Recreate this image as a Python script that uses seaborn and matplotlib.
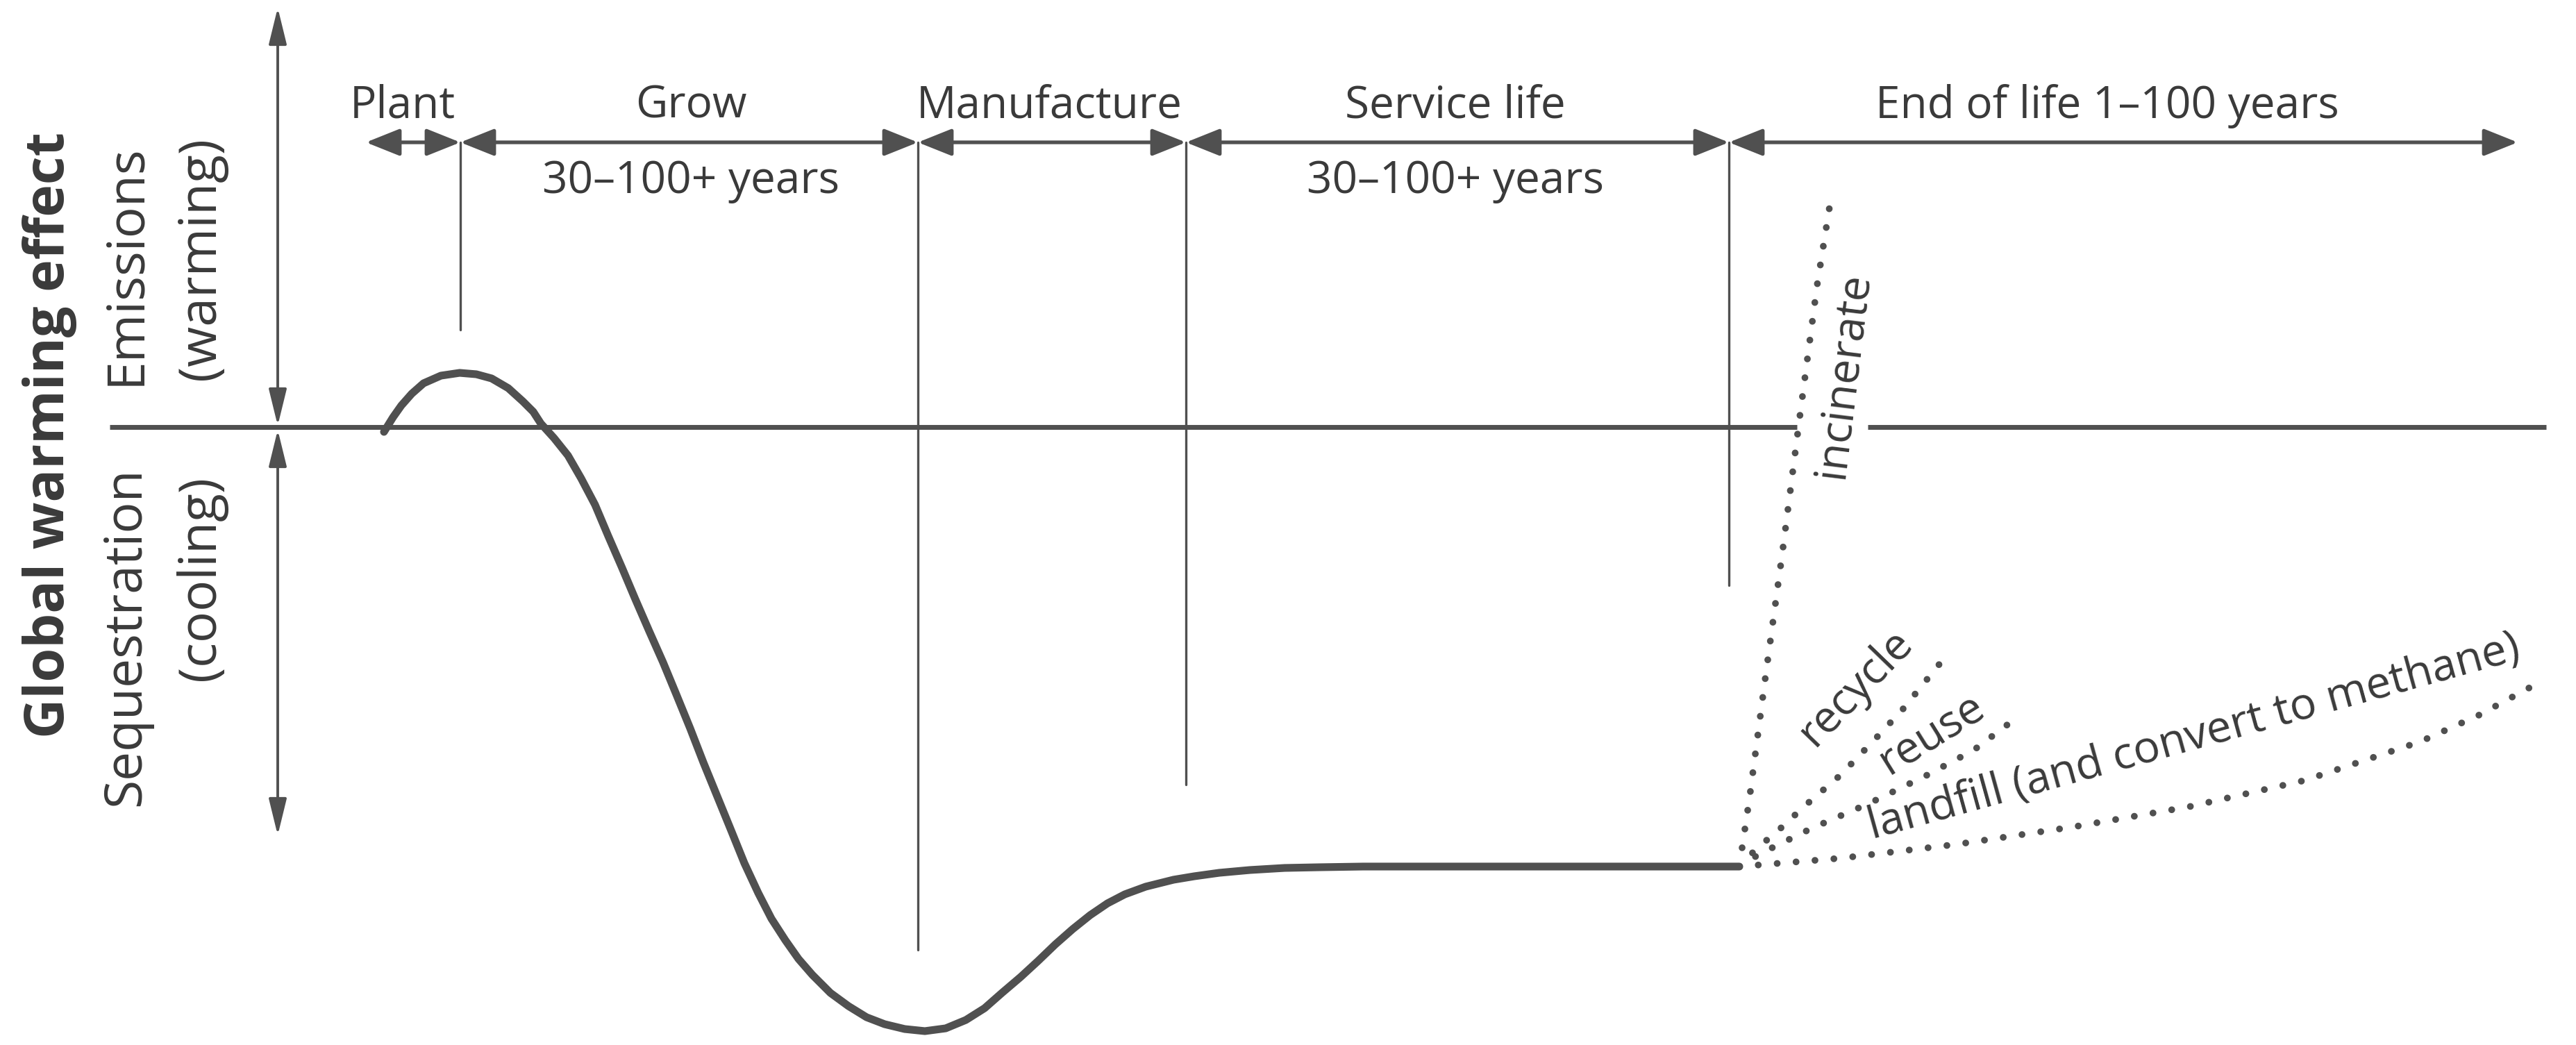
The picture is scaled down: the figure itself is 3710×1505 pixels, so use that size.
import numpy as np
import pandas as pd
import matplotlib.pyplot as plt
import seaborn as sns

# life-cycle curve (pixel space, y down)
curve_x = [553, 566, 578, 593, 610, 635, 662, 686, 708, 732, 753, 768, 779, 798, 818, 837, 857,
           876, 896, 915, 935, 955, 974, 994, 1013, 1033, 1053, 1072, 1092, 1111, 1131, 1150,
           1170, 1196, 1222, 1248, 1274, 1303, 1332, 1362, 1391, 1418, 1443, 1470, 1495, 1520,
           1545, 1570, 1595, 1620, 1650, 1690, 1720, 1756, 1800, 1850, 1900, 1963, 2505]
curve_y = [622, 601, 584, 567, 552, 541, 537, 539, 545, 559, 578, 593, 610, 631, 656, 689, 727,
           772, 818, 863, 909, 954, 1000, 1049, 1098, 1147, 1196, 1243, 1286, 1323, 1354, 1381,
           1404, 1430, 1449, 1465, 1475, 1482, 1485, 1481, 1469, 1452, 1430, 1407, 1384, 1360,
           1338, 1318, 1301, 1288, 1277, 1267, 1262, 1257, 1253, 1250, 1249, 1248, 1248]

# end-of-life routes (dotted)
incinerate_x = [2505, 2520, 2543, 2567, 2593, 2617, 2637]
incinerate_y = [1248, 1147, 972, 796, 593, 411, 285]
recycle_x = [2505, 2530, 2560, 2600, 2651, 2700, 2740, 2800]
recycle_y = [1248, 1222, 1197, 1160, 1116, 1065, 1022, 948]
reuse_x = [2505, 2534, 2609, 2692, 2776, 2843, 2892]
reuse_y = [1248, 1230, 1193, 1157, 1116, 1080, 1043]
landfill_x = [2505, 2651, 2818, 2985, 3152, 3319, 3486, 3570, 3653]
landfill_y = [1248, 1236, 1216, 1191, 1162, 1124, 1068, 1030, 985]

# phases along the top
phase_edges = [527, 663, 1322, 1708, 2490, 3626]
phase_names = ["Plant", "Grow", "Manufacture", "Service life", "End of life 1\u2013100 years"]
phase_name_x = [580, 995, 1511, 2096, 3035]
phase_dur = ["", "30\u2013100+ years", "", "30\u2013100+ years", ""]
divider_x = [663, 1322, 1708, 2490]
divider_end = [475, 1368, 1130, 843]

zero_y = 615
arrow_y = 205
axis_x = 400

ink = "#505050"
text_ink = "#3a3a3a"

sns.set_style("white")
plt.rcParams["font.family"] = ["Open Sans", "DejaVu Sans"]

fig = plt.figure(figsize=(37.1, 15.05), dpi=100)
ax = fig.add_axes([0, 0, 1, 1])
ax.set_xlim(0, 3710)
ax.set_ylim(1505, 0)
ax.axis("off")

# zero line (broken where "incinerate" crosses it)
ax.plot([158, 2588], [zero_y, zero_y], color=ink, linewidth=5, solid_capstyle="butt")
ax.plot([2690, 3667], [zero_y, zero_y], color=ink, linewidth=5, solid_capstyle="butt")

# main curve
df = pd.DataFrame({"x": curve_x, "y": curve_y})
sns.lineplot(data=df, x="x", y="y", sort=False, estimator=None, color=ink, ax=ax)
ln = ax.lines[-1]
ln.set_linewidth(8)
ln.set_solid_capstyle("round")
ln.set_solid_joinstyle("round")

# dotted routes
for xs, ys in [(incinerate_x, incinerate_y), (recycle_x, recycle_y),
               (reuse_x, reuse_y), (landfill_x, landfill_y)]:
    sns.lineplot(x=xs, y=ys, sort=False, estimator=None, color=ink, ax=ax)
    ln = ax.lines[-1]
    ln.set_linewidth(7)
    ln.set_linestyle((0, (0.01, 2.8)))
    ln.set_dash_capstyle("round")

# phase dividers
for x, y1 in zip(divider_x, divider_end):
    ax.plot([x, x], [arrow_y, y1], color=ink, linewidth=2.4)

# phase arrows
for i in range(len(phase_names)):
    x0, x1 = phase_edges[i], phase_edges[i + 1]
    ax.annotate("", xy=(x1, arrow_y), xytext=(x0, arrow_y),
                arrowprops=dict(arrowstyle="<|-|>,head_length=0.75,head_width=0.3",
                                mutation_scale=40, lw=3.8, color=ink,
                                shrinkA=0, shrinkB=0))
    ax.text(phase_name_x[i], 170, phase_names[i], ha="center", va="baseline",
            fontsize=46, color=text_ink)
    if phase_dur[i]:
        ax.text(phase_name_x[i], 278, phase_dur[i], ha="center", va="baseline",
                fontsize=46, color=text_ink)

# vertical effect axis
for y0, y1 in [(11, zero_y - 2), (zero_y + 4, 1203)]:
    ax.annotate("", xy=(axis_x, y1), xytext=(axis_x, y0),
                arrowprops=dict(arrowstyle="<|-|>,head_length=0.9,head_width=0.22",
                                mutation_scale=36, lw=2.8, color=ink,
                                shrinkA=0, shrinkB=0))

ax.text(72, 627, "Global warming effect", rotation=90, ha="center", va="center",
        fontsize=57, fontweight="bold", color=text_ink)
ax.text(182, 381, "Emissions", rotation=90, ha="center", va="center", fontsize=54, color=text_ink)
ax.text(290, 372, "(warming)", rotation=90, ha="center", va="center", fontsize=54, color=text_ink)
ax.text(182, 917, "Sequestration", rotation=90, ha="center", va="center", fontsize=54, color=text_ink)
ax.text(290, 833, "(cooling)", rotation=90, ha="center", va="center", fontsize=54, color=text_ink)

# route labels
ax.text(2655, 540, "incinerate", rotation=83, ha="center", va="center",
        rotation_mode="anchor", fontsize=46, color=text_ink)
ax.text(2672, 990, "recycle", rotation=46, ha="center", va="center",
        rotation_mode="anchor", fontsize=46, color=text_ink)
ax.text(2782, 1058, "reuse", rotation=32, ha="center", va="center",
        rotation_mode="anchor", fontsize=46, color=text_ink)
ax.text(3160, 1062, "landfill (and convert to methane)", rotation=15.5, ha="center",
        va="center", rotation_mode="anchor", fontsize=46, color=text_ink)

fig.savefig("out.png", dpi=100, facecolor="white")
